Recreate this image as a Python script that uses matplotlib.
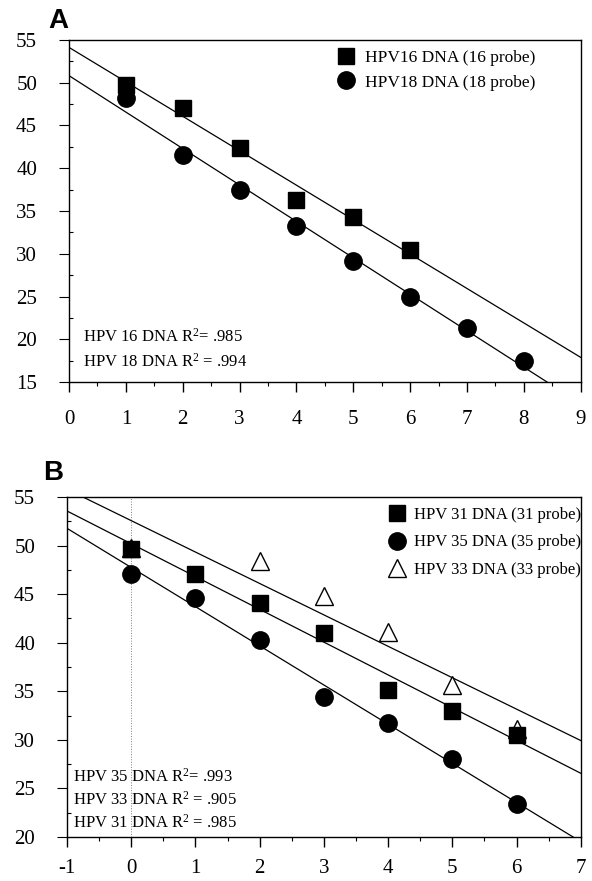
import numpy as np
import matplotlib
matplotlib.use("Agg")
import matplotlib.pyplot as plt
from matplotlib.ticker import MultipleLocator

plt.rcParams['font.family'] = 'Liberation Serif'
plt.rcParams['mathtext.fontset'] = 'custom'
plt.rcParams['mathtext.rm'] = 'Liberation Serif'
plt.rcParams['mathtext.it'] = 'Liberation Serif:italic'
plt.rcParams['axes.unicode_minus'] = False

# panel A
xa16 = np.array([1, 2, 3, 4, 5, 6])
ya16 = np.array([49.7, 47.1, 42.4, 36.3, 34.3, 30.4])
xa18 = np.array([1, 2, 3, 4, 5, 6, 7, 8])
ya18 = np.array([48.2, 41.6, 37.4, 33.2, 29.1, 24.9, 21.3, 17.5])

# panel B
xb31 = np.array([0, 1, 2, 3, 4, 5, 6])
yb31 = np.array([49.6, 47.1, 44.1, 41.0, 35.1, 33.0, 30.5])
xb35 = np.array([0, 1, 2, 3, 4, 5, 6])
yb35 = np.array([47.1, 44.6, 40.3, 34.4, 31.7, 28.0, 23.4])
xb33 = np.array([0, 2, 3, 4, 5, 6])
yb33 = np.array([49.7, 48.4, 44.8, 41.1, 35.6, 31.1])

r2_a = ["HPV 16 DNA R$^2$= .985", "HPV 18 DNA R$^2$ = .994"]
r2_b = ["HPV 35 DNA R$^2$= .993", "HPV 33 DNA R$^2$ = .905", "HPV 31 DNA R$^2$ = .985"]

fig = plt.figure(figsize=(5.92, 8.81), dpi=100)
axA = fig.add_axes([0.1166, 0.5664, 0.8644, 0.3882])
axB = fig.add_axes([0.1132, 0.05, 0.8678, 0.3859])


def fit_line(ax, x, y, xr):
    m, c = np.polyfit(x, y, 1)
    xx = np.array(xr)
    ax.plot(xx, m * xx + c, color='black', lw=0.9, zorder=2)


def style(ax, xlim, ylim, xpad):
    ax.set_xlim(*xlim)
    ax.set_ylim(*ylim)
    ax.xaxis.set_major_locator(MultipleLocator(1))
    ax.xaxis.set_minor_locator(MultipleLocator(0.5))
    ax.yaxis.set_major_locator(MultipleLocator(5))
    ax.yaxis.set_minor_locator(MultipleLocator(2.5))
    ax.tick_params(axis='x', which='major', direction='out', length=7, width=1, labelsize=15, pad=xpad)
    ax.tick_params(axis='x', which='minor', direction='out', length=3, width=0.8)
    ax.tick_params(axis='y', which='major', direction='out', length=7, width=0.8, labelsize=15, pad=16)
    ax.tick_params(axis='y', which='minor', direction='in', length=3, width=0.8)
    for s in ax.spines.values():
        s.set_linewidth(1.0)


# A
fit_line(axA, xa16, ya16, [-1, 10])
fit_line(axA, xa18, ya18, [-1, 10])
axA.plot(xa16, ya16, 's', color='black', ms=11.5, label='HPV16 DNA (16 probe)', zorder=3)
axA.plot(xa18, ya18, 'o', color='black', ms=12.5, label='HPV18 DNA (18 probe)', zorder=3)
style(axA, (0, 9), (15, 55), 13)
axA.legend(loc='upper left', bbox_to_anchor=(0.52, 0.972), frameon=False, fontsize=12.5,
           handletextpad=0.5, borderaxespad=0, borderpad=0, labelspacing=0.5, handlelength=1.2)
for i, t in enumerate(r2_a):
    axA.text(0.25, 20.3 - i * 2.92, t, fontsize=12, va='center', ha='left')
axA.text(-0.041, 1.035, 'A', transform=axA.transAxes, fontsize=20, fontweight='bold',
         family='Liberation Sans', ha='left', va='baseline')

# B
fit_line(axB, xb31, yb31, [-2, 8])
fit_line(axB, xb35, yb35, [-2, 8])
fit_line(axB, xb33, yb33, [-2, 8])
axB.axvline(0, color='gray', lw=0.7, ls=':', zorder=1)
axB.plot(xb33, yb33, '^', mfc='white', mec='black', mew=1.0, ms=13, label='HPV 33 DNA (33 probe)', zorder=3)
axB.plot(xb31, yb31, 's', color='black', ms=11.5, label='HPV 31 DNA (31 probe)', zorder=4)
axB.plot(xb35, yb35, 'o', color='black', ms=12.5, label='HPV 35 DNA (35 probe)', zorder=4)
style(axB, (-1, 7), (20, 55), 9)
h, l = axB.get_legend_handles_labels()
axB.legend([h[1], h[2], h[0]], [l[1], l[2], l[0]], loc='upper left', bbox_to_anchor=(0.623, 0.971),
           frameon=False, fontsize=12, handletextpad=0.35, borderaxespad=0, borderpad=0,
           labelspacing=0.7, handlelength=1.25)
for i, t in enumerate(r2_b):
    axB.text(-0.9, 26.2 - i * 2.37, t, fontsize=12, va='center', ha='left')
axB.text(-0.047, 1.05, 'B', transform=axB.transAxes, fontsize=20, fontweight='bold',
         family='Liberation Sans', ha='left', va='baseline')

fig.savefig('out.png', dpi=100)
